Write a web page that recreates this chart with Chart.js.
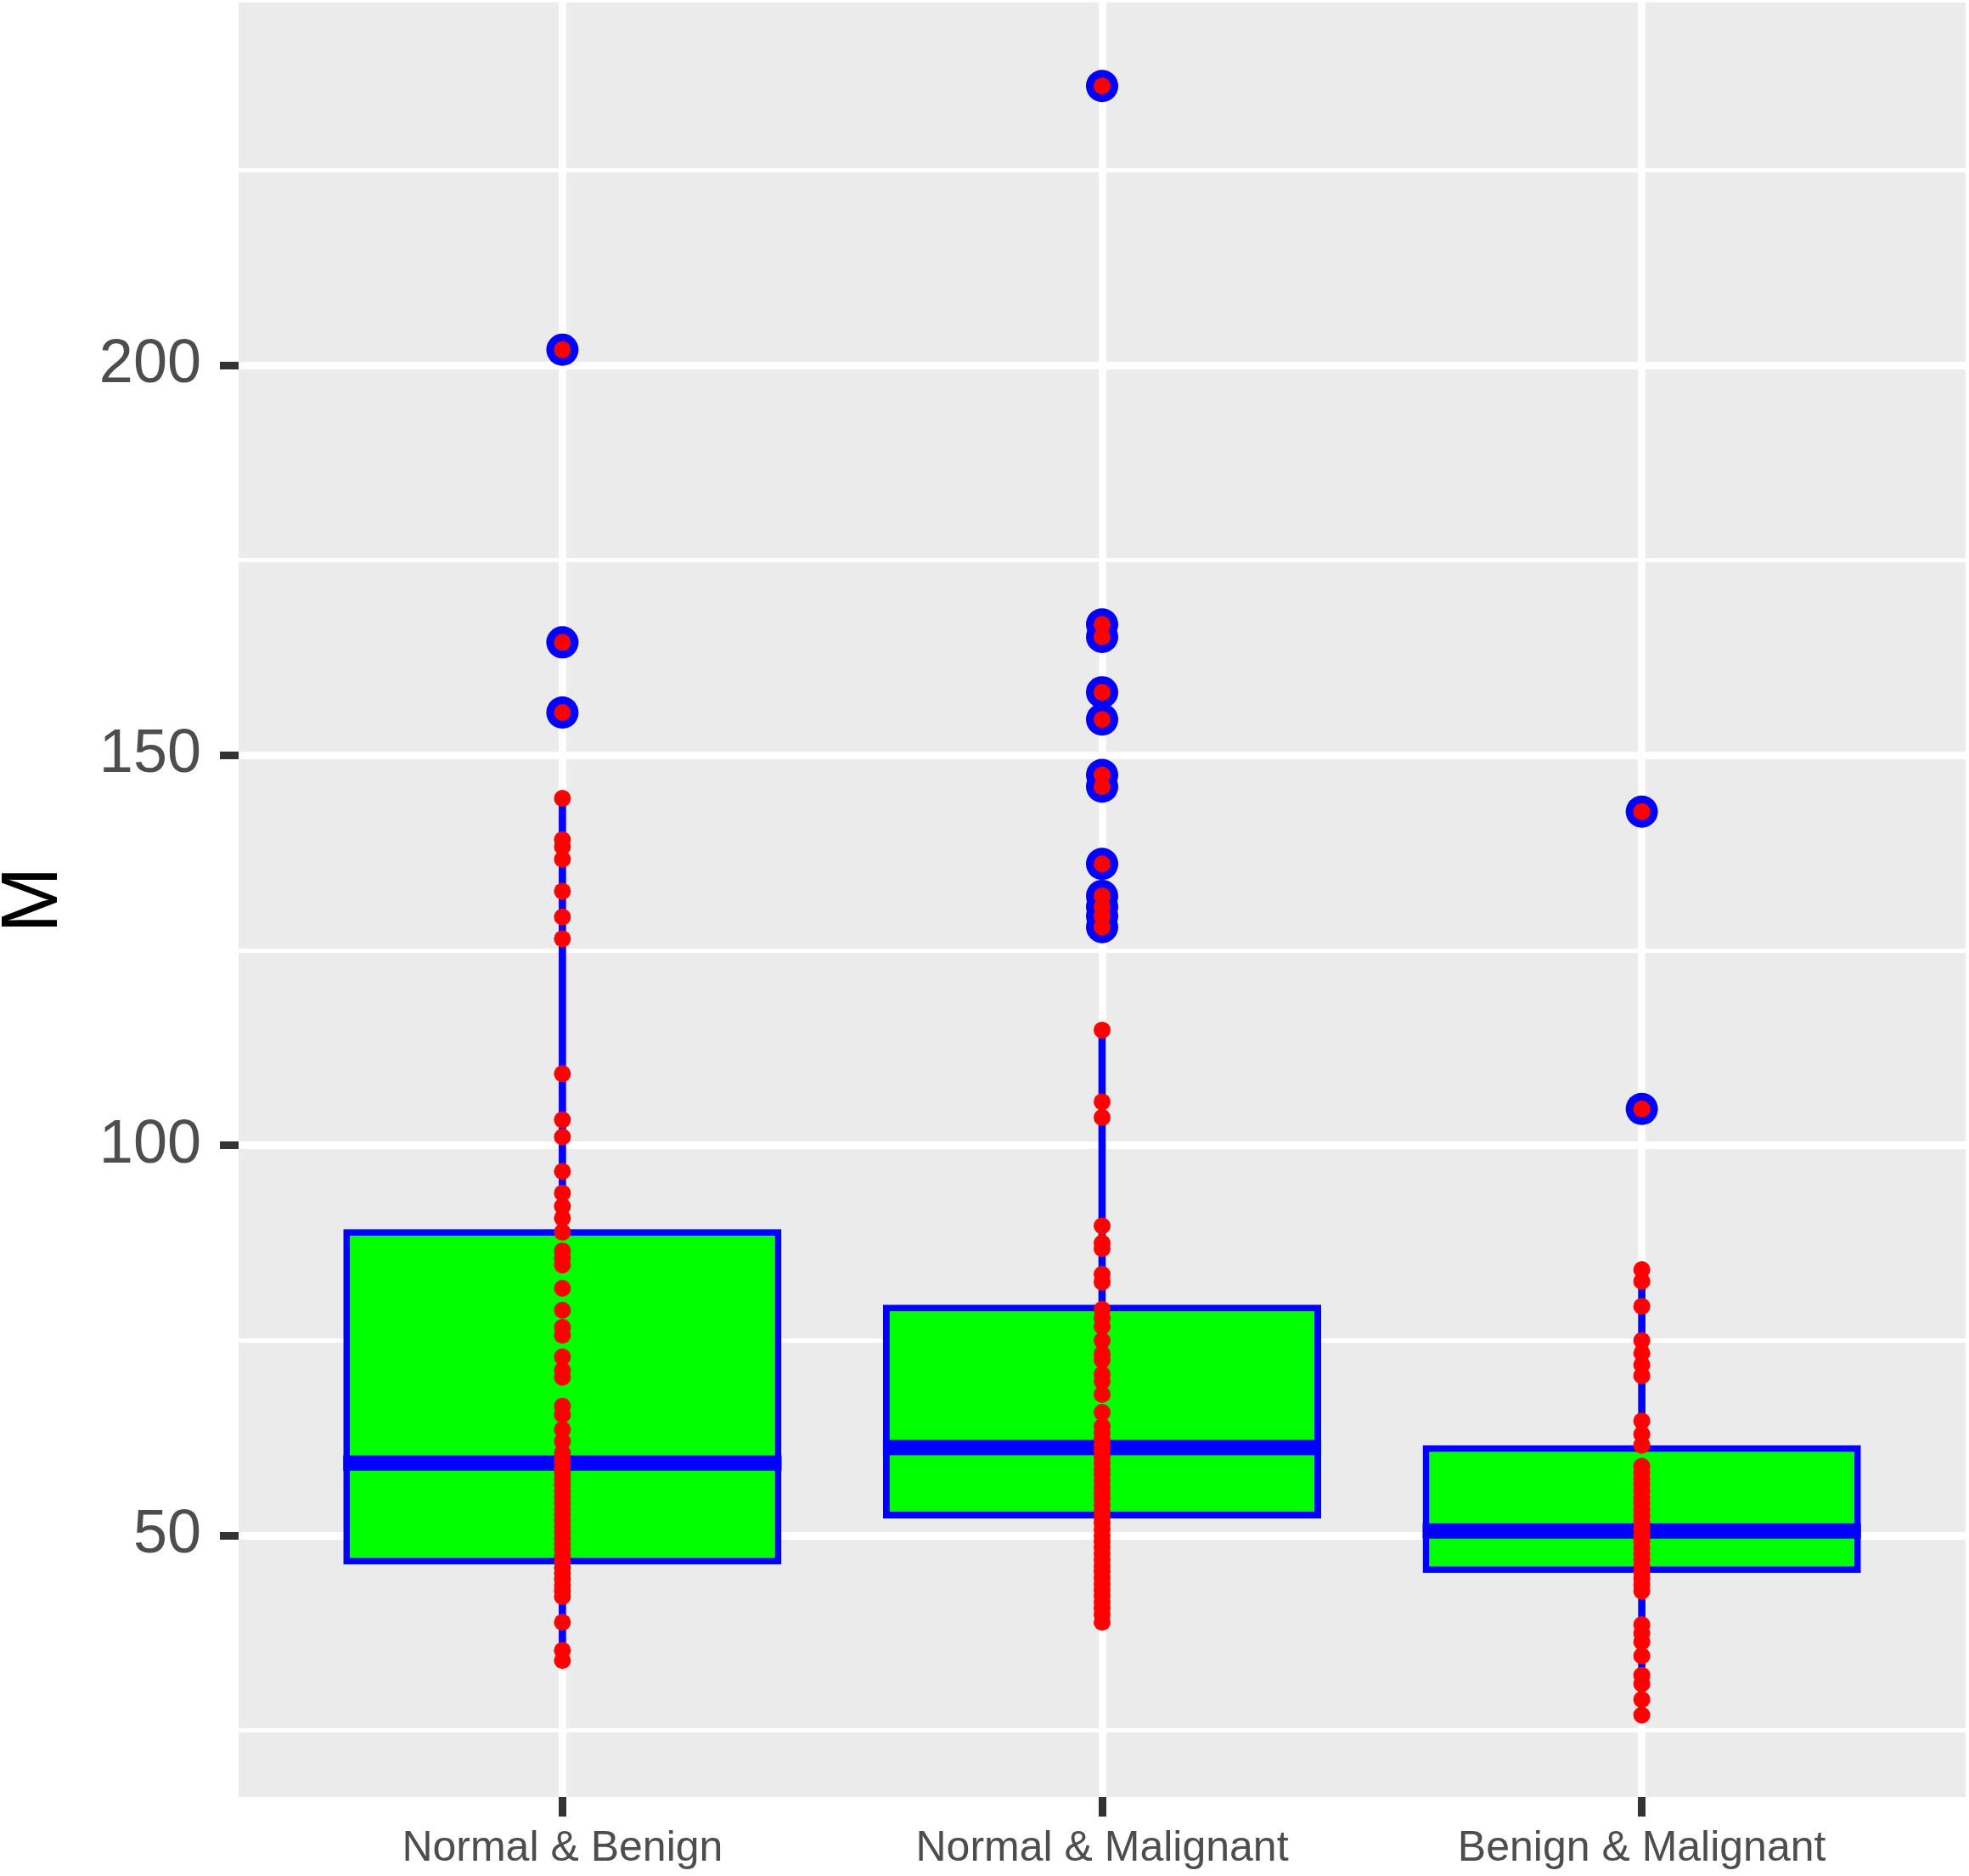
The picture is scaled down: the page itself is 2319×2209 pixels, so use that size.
<!DOCTYPE html>
<html>
<head>
<meta charset="utf-8">
<title>M by group</title>
<script src="https://cdn.jsdelivr.net/npm/chart.js@4.4.0/dist/chart.umd.min.js"></script>
<style>
  html, body { margin: 0; padding: 0; background: #ffffff; }
  #wrap { width: 2319px; height: 2209px; }
  canvas { display: block; }
</style>
</head>
<body>
<div id="wrap"><canvas id="box-chart" width="2319" height="2209" style="width:2319px;height:2209px"></canvas></div>
<script>
// categories on the x axis
var categories = ["Normal & Benign", "Normal & Malignant", "Benign & Malignant"];

// box statistics, one value per category
var whiskerLow  = [34.0, 38.9, 27.0];
var q1          = [46.3, 52.2, 45.2];
var median      = [59.3, 61.3, 50.6];
var q3          = [89.3, 79.6, 61.6];
var whiskerHigh = [144.5, 114.8, 84.3];

// outliers
var outliersNB = [202.0, 164.5, 155.5];
var outliersNM = [235.8, 166.8, 165.2, 158.1, 154.6, 147.5, 146.0, 136.1, 132.0, 130.6, 129.4, 128.0];
var outliersBM = [142.8, 104.7];

// all observations (red dots)
var valuesNB = [202.0, 164.5, 155.5, 144.5, 139.2, 138.3, 136.7, 132.6, 129.3, 126.5, 109.2, 103.3,
  101.1, 96.7, 93.9, 92.2, 90.7, 88.9, 86.5, 85.6, 84.7, 81.7, 78.9, 76.7, 75.7, 72.9, 71.2, 70.3,
  66.6, 65.5, 63.6, 62.1, 60.6, 59.9, 59.3, 58.6, 57.9, 57.2, 56.5, 55.7, 55.0, 54.2, 53.4, 52.7,
  51.9, 51.2, 50.4, 49.7, 48.9, 48.2, 47.4, 46.7, 45.9, 45.2, 44.4, 43.6, 42.9, 42.2, 38.9, 35.3, 34.0];
var valuesNM = [235.8, 166.8, 165.2, 158.1, 154.6, 147.5, 146.0, 136.1, 132.0, 130.6, 129.4, 128.0,
  114.8, 105.6, 103.6, 89.7, 87.5, 86.8, 83.5, 82.5, 79.0, 77.9, 76.8, 75.0, 73.3, 72.5, 70.7, 69.8,
  68.1, 65.8, 64.0, 63.2, 62.4, 61.6, 60.9, 60.1, 59.3, 58.5, 57.8, 57.0, 56.2, 55.4, 54.7, 53.9,
  53.1, 52.3, 51.6, 50.8, 50.0, 49.2, 48.5, 47.7, 46.9, 46.1, 45.4, 44.6, 43.8, 43.0, 42.3, 41.5,
  40.7, 39.9, 38.9];
var valuesBM = [142.8, 104.7, 84.1, 82.6, 79.4, 75.0, 73.4, 71.9, 70.5, 64.7, 63.0, 61.6, 58.9,
  58.1, 57.3, 56.5, 55.7, 54.9, 54.1, 53.3, 52.5, 51.7, 50.9, 50.1, 49.3, 48.5, 47.7, 46.9, 46.1,
  45.3, 44.5, 43.7, 42.9, 38.6, 37.5, 36.4, 34.6, 32.1, 31.0, 29.0, 27.0];

// axis ranges and ticks
var xMin = -0.6;
var xMax = 2.6;
var yMin = 16.5;
var yMax = 246.5;
var yStep = 25;
var yLabelEvery = 50;

// turn per-category lists into {x, y} points (x = category index)
function toPoints(lists) {
    var pts = [];
    lists.forEach(function(list, i) {
        list.forEach(function(v) { pts.push({ x: i, y: v }); });
    });
    return pts;
}

var boxWidth = 0.812;
function halfBox(ctx) {
    var sx = ctx.chart.scales.x;
    if (!sx) return 0;
    return Math.abs(sx.getPixelForValue(1) - sx.getPixelForValue(0)) * boxWidth / 2;
}

// grey panel behind the grid
var panelBg = {
    id: "panelBg",
    beforeDraw: function(chart) {
        var a = chart.chartArea, c = chart.ctx;
        c.save();
        c.fillStyle = "#EBEBEB";
        c.fillRect(a.left, a.top, a.right - a.left, a.bottom - a.top);
        c.restore();
    }
};

var ctx = document.getElementById("box-chart");

var chart = new Chart(ctx, {
    type: "bar",
    data: {
        datasets: [
            {
                // observations
                type: "line",
                data: toPoints([valuesNB, valuesNM, valuesBM]),
                showLine: false,
                pointRadius: 10,
                pointBackgroundColor: "#FF0000",
                pointBorderWidth: 0,
                order: 0
            },
            {
                // outliers
                type: "line",
                data: toPoints([outliersNB, outliersNM, outliersBM]),
                showLine: false,
                pointRadius: 19,
                pointBackgroundColor: "#0000FF",
                pointBorderWidth: 0,
                order: 1
            },
            {
                // medians
                type: "line",
                data: categories.map(function(c, i) { return { x: i, y: median[i] }; }),
                showLine: false,
                pointStyle: "line",
                pointRadius: halfBox,
                pointBorderColor: "#0000FF",
                pointBackgroundColor: "#0000FF",
                pointBorderWidth: 18,
                order: 2
            },
            {
                // boxes
                data: categories.map(function(c, i) { return { x: i, y: [q1[i], q3[i]] }; }),
                backgroundColor: "#00FF00",
                borderColor: "#0000FF",
                borderWidth: 8,
                borderSkipped: false,
                barPercentage: boxWidth,
                categoryPercentage: 1.0,
                grouped: false,
                order: 3
            },
            {
                // whiskers
                data: categories.map(function(c, i) { return { x: i, y: [whiskerLow[i], whiskerHigh[i]] }; }),
                backgroundColor: "#0000FF",
                borderWidth: 0,
                barThickness: 8,
                grouped: false,
                order: 4
            }
        ]
    },
    options: {
        responsive: false,
        animation: false,
        devicePixelRatio: 1,
        layout: { autoPadding: false, padding: { top: 3, right: 4, left: 0, bottom: 0 } },
        plugins: {
            legend: { display: false },
            tooltip: { enabled: false }
        },
        scales: {
            x: {
                type: "linear",
                min: xMin,
                max: xMax,
                offset: false,
                border: { display: false },
                grid: {
                    offset: false,
                    color: "#FFFFFF",
                    lineWidth: 9,
                    tickLength: 23,
                    tickWidth: 9,
                    tickColor: "#333333"
                },
                ticks: {
                    color: "#4D4D4D",
                    padding: 8,
                    autoSkip: false,
                    maxRotation: 0,
                    font: { family: "Liberation Sans", size: 50 },
                    callback: function(v) { return categories[v] !== undefined ? categories[v] : ""; }
                },
                afterBuildTicks: function(scale) {
                    scale.ticks = categories.map(function(c, i) { return { value: i }; });
                },
                afterFit: function(scale) {
                    scale.height = 93;
                    scale.paddingLeft = 0;
                    scale.paddingRight = 0;
                }
            },
            y: {
                min: yMin,
                max: yMax,
                border: { display: false },
                grid: {
                    color: "#FFFFFF",
                    lineWidth: function(c) { return c.tick && c.tick.value % yLabelEvery === 0 ? 9 : 5; },
                    tickLength: 22,
                    tickWidth: 9,
                    tickColor: function(c) { return c.tick && c.tick.value % yLabelEvery === 0 ? "#333333" : "rgba(0,0,0,0)"; }
                },
                ticks: {
                    stepSize: yStep,
                    includeBounds: false,
                    color: "#4D4D4D",
                    padding: 22,
                    font: { family: "Liberation Sans", size: 72 },
                    callback: function(v) { return v % yLabelEvery === 0 ? String(v) : ""; }
                },
                title: {
                    display: true,
                    text: "M",
                    color: "#000000",
                    padding: { top: 0, bottom: 0 },
                    font: { family: "Liberation Sans", size: 94, lineHeight: 0.88 }
                },
                afterFit: function(scale) {
                    scale.width = 281;
                    scale.paddingTop = 0;
                    scale.paddingBottom = 0;
                }
            }
        }
    },
    plugins: [panelBg]
});
</script>
</body>
</html>
